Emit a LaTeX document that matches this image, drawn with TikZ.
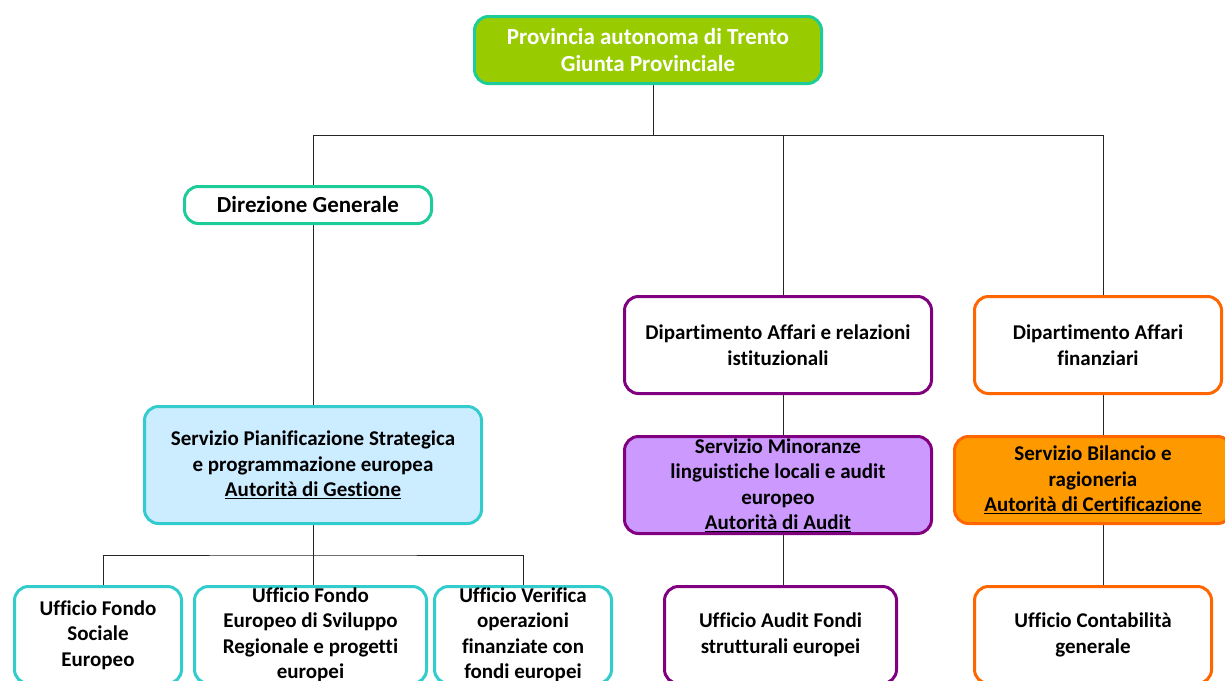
\documentclass[tikz,border=0pt]{standalone}
\usepackage{fontspec}
\setmainfont{Carlito}[Ligatures=NoCommon]
\usetikzlibrary{positioning,backgrounds}
\definecolor{verde}{HTML}{99CC00}
\definecolor{verdebordo}{HTML}{1ECC99}
\definecolor{turchese}{HTML}{33CCCC}
\definecolor{celeste}{HTML}{CCECFF}
\definecolor{viola}{HTML}{800080}
\definecolor{lilla}{HTML}{CC99FF}
\definecolor{arancio}{HTML}{FF6600}
\definecolor{arancioch}{HTML}{FF9900}
\tikzset{
  box/.style={draw, line width=3pt, rounded corners=14pt, align=center, inner sep=0pt,
    font=\bfseries\fontsize{21}{25.5}\selectfont},
  big/.style={font=\bfseries\fontsize{23}{27}\selectfont},
  giunta/.style={box, big, draw=verdebordo, fill=verde, text=white},
  dirbox/.style={box, draw=turchese, fill=white},
  genbox/.style={box, big, draw=verdebordo, fill=white},
  autbox/.style={box, draw=turchese, fill=celeste},
  viobox/.style={box, draw=viola, fill=white},
  audbox/.style={box, draw=viola, fill=lilla},
  arabox/.style={box, draw=arancio, fill=white},
  cerbox/.style={box, draw=arancio, fill=arancioch},
  link/.style={draw=black!85, line width=1pt}
}
\begin{document}
\begin{tikzpicture}[x=1pt,y=-1pt]
\useasboundingbox (0,0) rectangle (1225,680);
\clip (0,0) rectangle (1225,680);
% vertice
\node [giunta, minimum width=347pt, minimum height=67pt] (z) at (648,50)
  {Provincia autonoma di Trento\\Giunta Provinciale};
% ramo sinistro
\node [genbox, minimum width=247pt, minimum height=37pt] (a) at (308,205) {Direzione Generale};
\node [autbox, minimum width=337pt, minimum height=117pt] (s) at (313,465)
  {Servizio Pianificazione Strategica\\e programmazione europea\\\underline{Autorità di Gestione}};
\node [dirbox, minimum width=167pt, minimum height=97pt] (b) at (98,635) {Ufficio Fondo\\Sociale\\Europeo};
\node [dirbox, minimum width=232pt, minimum height=97pt] (c) at (310.5,635)
  {Ufficio Fondo\\Europeo di Sviluppo\\Regionale e progetti\\europei};
\node [dirbox, minimum width=177pt, minimum height=97pt] (d) at (523,635)
  {Ufficio Verifica\\operazioni\\finanziate con\\fondi europei};
% ramo centrale
\node [viobox, minimum width=307pt, minimum height=97pt] (r) at (778,345)
  {Dipartimento Affari e relazioni\\istituzionali};
\node [audbox, minimum width=307pt, minimum height=97pt] (n) at (778,485)
  {Servizio Minoranze\\linguistiche locali e audit\\europeo\\\underline{Autorità di Audit}};
\node [viobox, minimum width=232pt, minimum height=97pt] (u) at (780.5,635)
  {Ufficio Audit Fondi\\strutturali europei};
% ramo destro
\node [arabox, minimum width=247pt, minimum height=97pt] (f) at (1098,345)
  {Dipartimento Affari\\finanziari};
\node [cerbox, minimum width=277pt, minimum height=87pt] (g) at (1093,480)
  {Servizio Bilancio e\\ragioneria\\\underline{Autorità di Certificazione}};
\node [arabox, minimum width=237pt, minimum height=97pt] (l) at (1093,635)
  {Ufficio Contabilità\\generale};
% collegamenti
\begin{scope}[on background layer]
  \coordinate (j) at (653,135);
  \coordinate (m) at (783,135);
  \coordinate (k) at (1103,135);
  \coordinate (h) at (313,555);
  \draw [link] (j |- z.south) -- (j);
  \draw [link] (s.north) |- (k) -- (k |- f.north);
  \draw [link] (m) -- (m |- r.north);
  \draw [link] (m |- r.south) -- (m |- n.north);
  \draw [link] (m |- n.south) -- (m |- u.north);
  \draw [link] (k |- f.south) -- (k |- g.north);
  \draw [link] (k |- g.south) -- (k |- l.north);
  \draw [link] (s.south) -- (h);
  \draw [link] ([xshift=5pt]b.north) |- (h) -| (d.north);
  \draw [link] (h) -- (h |- c.north);
\end{scope}
\end{tikzpicture}
\end{document}
